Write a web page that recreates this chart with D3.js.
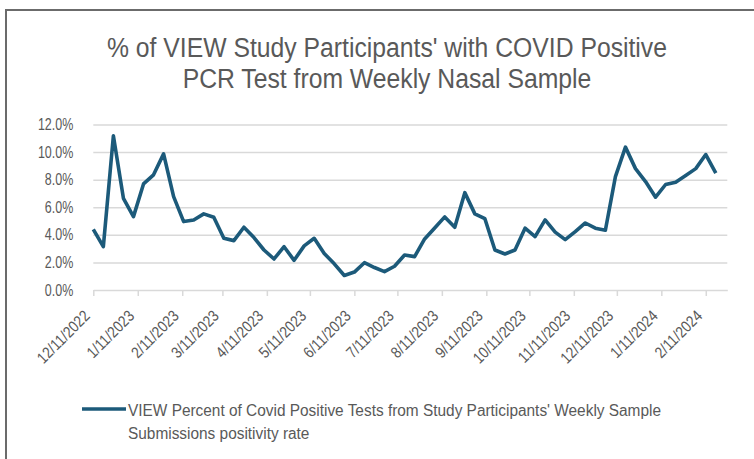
<!DOCTYPE html>
<html>
<head>
<meta charset="utf-8">
<script src="https://cdn.jsdelivr.net/npm/d3@7"></script>
<style>
  html, body { margin: 0; padding: 0; background: #ffffff; }
  svg { display: block; }
  text { font-family: "Liberation Sans", Arial, sans-serif; fill: #595959; }
</style>
</head>
<body>
<svg id="chart" width="754" height="459"></svg>
<script>
// ---- data ----
const titleLines = ["% of VIEW Study Participants' with COVID Positive", "PCR Test from Weekly Nasal Sample"];
const seriesName = ["VIEW Percent of Covid Positive Tests from Study Participants' Weekly Sample", "Submissions positivity rate"];

const weekDates = [
  "2022-12-11","2022-12-18","2022-12-25",
  "2023-01-01","2023-01-08","2023-01-15","2023-01-22","2023-01-29",
  "2023-02-05","2023-02-12","2023-02-19","2023-02-26",
  "2023-03-05","2023-03-12","2023-03-19","2023-03-26",
  "2023-04-02","2023-04-09","2023-04-16","2023-04-23","2023-04-30",
  "2023-05-07","2023-05-14","2023-05-21","2023-05-28",
  "2023-06-04","2023-06-11","2023-06-18","2023-06-25",
  "2023-07-02","2023-07-09","2023-07-16","2023-07-23","2023-07-30",
  "2023-08-06","2023-08-13","2023-08-20","2023-08-27",
  "2023-09-03","2023-09-10","2023-09-17","2023-09-24",
  "2023-10-01","2023-10-08","2023-10-15","2023-10-22","2023-10-29",
  "2023-11-05","2023-11-12","2023-11-19","2023-11-26",
  "2023-12-03","2023-12-10","2023-12-17","2023-12-24","2023-12-31",
  "2024-01-07","2024-01-14","2024-01-21","2024-01-28",
  "2024-02-04","2024-02-11","2024-02-18"
];

const positivity = [
  4.40, 3.14, 11.18, 6.65, 5.32, 7.69, 8.35, 9.87, 6.77, 4.96,
  5.08, 5.52, 5.27, 3.75, 3.58, 4.55, 3.80, 2.90, 2.25, 3.14,
  2.15, 3.20, 3.75, 2.65, 1.90, 1.05, 1.30, 1.98, 1.63, 1.33,
  1.72, 2.54, 2.42, 3.70, 4.50, 5.30, 4.55, 7.06, 5.52, 5.17,
  2.90, 2.61, 2.90, 4.48, 3.87, 5.08, 4.20, 3.65, 4.23, 4.86,
  4.48, 4.33, 8.22, 10.36, 8.80, 7.86, 6.73, 7.65, 7.82, 8.30,
  8.80, 9.82, 8.47
];

const yTicks = [0, 2, 4, 6, 8, 10, 12];

const xTickDates = [
  "2022-12-11","2023-01-11","2023-02-11","2023-03-11","2023-04-11","2023-05-11",
  "2023-06-11","2023-07-11","2023-08-11","2023-09-11","2023-10-11","2023-11-11",
  "2023-12-11","2024-01-11","2024-02-11"
];
const xTickLabels = [
  "12/11/2022","1/11/2023","2/11/2023","3/11/2023","4/11/2023","5/11/2023",
  "6/11/2023","7/11/2023","8/11/2023","9/11/2023","10/11/2023","11/11/2023",
  "12/11/2023","1/11/2024","2/11/2024"
];
const xDomain = ["2022-12-11", "2024-02-26"];

// ---- drawing ----
const parse = d3.utcParse("%Y-%m-%d");
const data = weekDates.map((d, i) => ({ date: parse(d), value: positivity[i] }));

const svg = d3.select("#chart");
const lineColor = "#1c5a7a";
const gridColor = "#d9d9d9";

// horizontally condense text (narrow face look)
function condense(sel, k) {
  sel.each(function () {
    const w = this.getComputedTextLength();
    d3.select(this).attr("textLength", w * k).attr("lengthAdjust", "spacingAndGlyphs");
  });
}
function fitGroup(sel, targetFirst) {
  const w0 = sel.nodes()[0].getComputedTextLength();
  condense(sel, targetFirst / w0);
}

// frame (top and left edges visible)
svg.append("line").attr("x1", 5).attr("x2", 754).attr("y1", 10).attr("y2", 10)
  .attr("stroke", "#6b6b6b").attr("stroke-width", 2);
svg.append("line").attr("x1", 6).attr("x2", 6).attr("y1", 9).attr("y2", 459)
  .attr("stroke", "#6b6b6b").attr("stroke-width", 2);

const x = d3.scaleUtc().domain(xDomain.map(parse)).range([93.3, 727.3]);
const y = d3.scaleLinear().domain([0, 12]).range([290, 124.5]);

// title
const tt = svg.append("g").selectAll("text").data(titleLines).join("text")
  .attr("x", 387).attr("y", (d, i) => 57 + i * 31)
  .attr("text-anchor", "middle")
  .style("font-size", "27px")
  .text(d => d);
fitGroup(tt, 560);

// gridlines + y labels
const yAxis = d3.axisLeft(y).tickValues(yTicks)
  .tickSize(-(727.3 - 93.3)).tickPadding(20)
  .tickFormat(d => d3.format(".1f")(d) + "%");
const gy = svg.append("g").attr("transform", "translate(93.3,0)").call(yAxis);
gy.select(".domain").remove();
gy.selectAll(".tick line").attr("stroke", gridColor).attr("stroke-width", 1.5)
  .filter(d => d === 0).remove();
gy.selectAll(".tick text").style("font-size", "16px").attr("fill", "#595959")
  .style("font-family", "'Liberation Sans', Arial, sans-serif");
condense(gy.selectAll(".tick text"), 0.78);

// x axis
const xAxis = d3.axisBottom(x).tickValues(xTickDates.map(parse))
  .tickSize(6).tickSizeOuter(0)
  .tickFormat((d, i) => xTickLabels[i]);
const gx = svg.append("g").attr("transform", "translate(0,290)").call(xAxis);
gx.select(".domain").attr("stroke", gridColor).attr("stroke-width", 1.5);
gx.selectAll(".tick line").attr("stroke", gridColor).attr("stroke-width", 1.5);
gx.selectAll(".tick text")
  .style("font-size", "16px").attr("fill", "#595959")
  .style("font-family", "'Liberation Sans', Arial, sans-serif")
  .attr("text-anchor", "end")
  .attr("dy", null)
  .attr("transform", "translate(-3,27) rotate(-45)")
  .attr("x", 0).attr("y", 0);
condense(gx.selectAll(".tick text"), 0.85);

// line
const line = d3.line().x(d => x(d.date)).y(d => y(d.value));
svg.append("path").datum(data)
  .attr("d", line)
  .attr("fill", "none")
  .attr("stroke", lineColor)
  .attr("stroke-width", 3.6)
  .attr("stroke-linejoin", "round");

// legend
const lg = svg.append("g");
lg.append("line").attr("x1", 82).attr("x2", 126).attr("y1", 409).attr("y2", 409)
  .attr("stroke", lineColor).attr("stroke-width", 3.6);
const lt = lg.selectAll("text").data(seriesName).join("text")
  .attr("x", 128).attr("y", (d, i) => 416 + i * 23)
  .style("font-size", "16px")
  .text(d => d);
fitGroup(lt, 533);
</script>
</body>
</html>
